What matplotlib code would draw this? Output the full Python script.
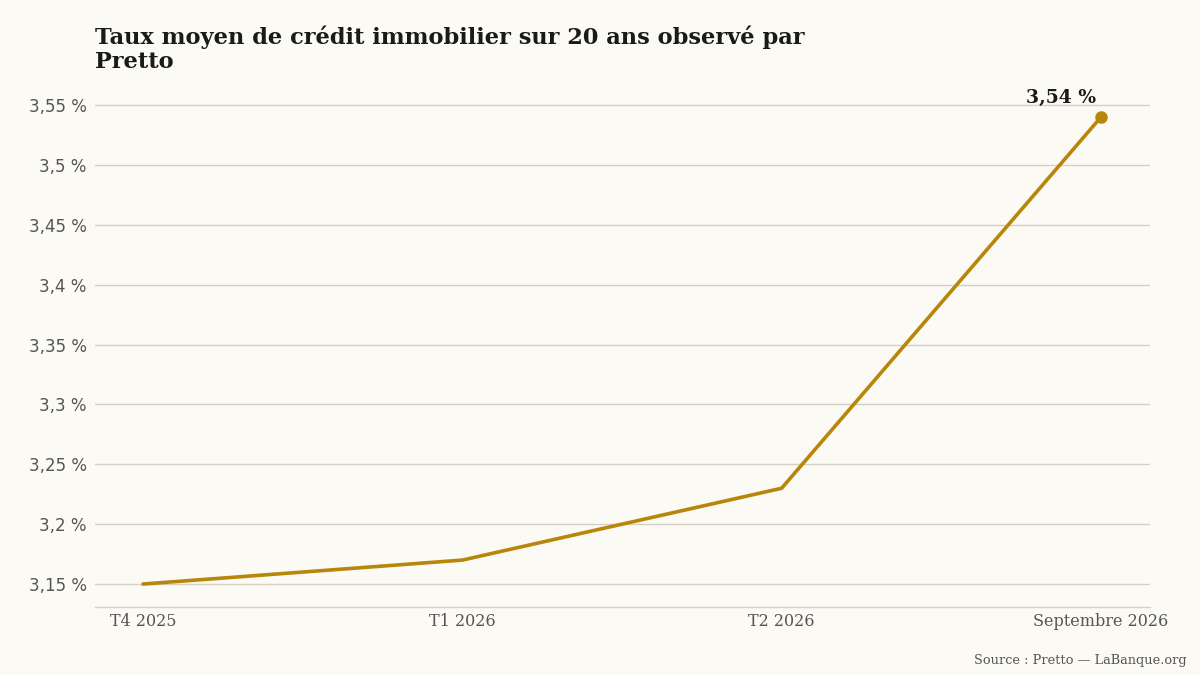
import matplotlib.pyplot as plt
from matplotlib.ticker import FuncFormatter

periods = ['T4 2025', 'T1 2026', 'T2 2026', 'Septembre 2026']
taux = [3.15, 3.17, 3.23, 3.54]
yticks = [3.15, 3.20, 3.25, 3.30, 3.35, 3.40, 3.45, 3.50, 3.55]

bg = '#fbfaf4'
gold = '#b8860b'
grid_col = '#d6cfc3'

fig = plt.figure(figsize=(12, 6.75), dpi=100, facecolor=bg)
ax = fig.add_axes([0.0792, 0.1007, 0.879, 0.7613], facecolor=bg)

x = list(range(len(periods)))
ax.plot(x, taux, color=gold, lw=2.6, solid_capstyle='round', zorder=3)
ax.plot(x[-1], taux[-1], 'o', color=gold, ms=8, zorder=4)
ax.annotate('3,54 %', (x[-1], taux[-1]), xytext=(-29, 7), textcoords='offset points',
            ha='center', va='bottom', fontsize=13.5, fontweight='bold',
            family='DejaVu Serif', color='#1a1a1a')

ax.set_xlim(-0.15, 3.153)
ax.set_ylim(3.1308, 3.56)
ax.set_yticks(yticks)

def fmt(v, pos):
    s = f'{v:.2f}'.rstrip('0').rstrip('.')
    return s.replace('.', ',') + ' %'

ax.yaxis.set_major_formatter(FuncFormatter(fmt))
ax.set_xticks(x)
ax.set_xticklabels(periods, family='DejaVu Serif', fontsize=11.5, color='#555555')
ax.tick_params(axis='y', length=0, labelsize=12, labelcolor='#555555', pad=6)
ax.tick_params(axis='x', length=0, pad=4)
ax.grid(axis='y', color=grid_col, lw=1)
ax.set_axisbelow(True)
for s in ['top', 'right', 'left']:
    ax.spines[s].set_visible(False)
ax.spines['bottom'].set_color(grid_col)
ax.spines['bottom'].set_linewidth(1)

fig.text(0.0792, 0.927, 'Taux moyen de crédit immobilier sur 20 ans observé par\nPretto',
         ha='left', va='center', fontsize=16.2, fontweight='bold', family='DejaVu Serif',
         color='#1a1a1a', linespacing=1.15)
fig.text(0.989, 0.012, 'Source : Pretto — LaBanque.org', ha='right', va='bottom',
         fontsize=9.3, family='DejaVu Serif', color='#555555')

fig.savefig('out.png', dpi=100, facecolor=bg)
